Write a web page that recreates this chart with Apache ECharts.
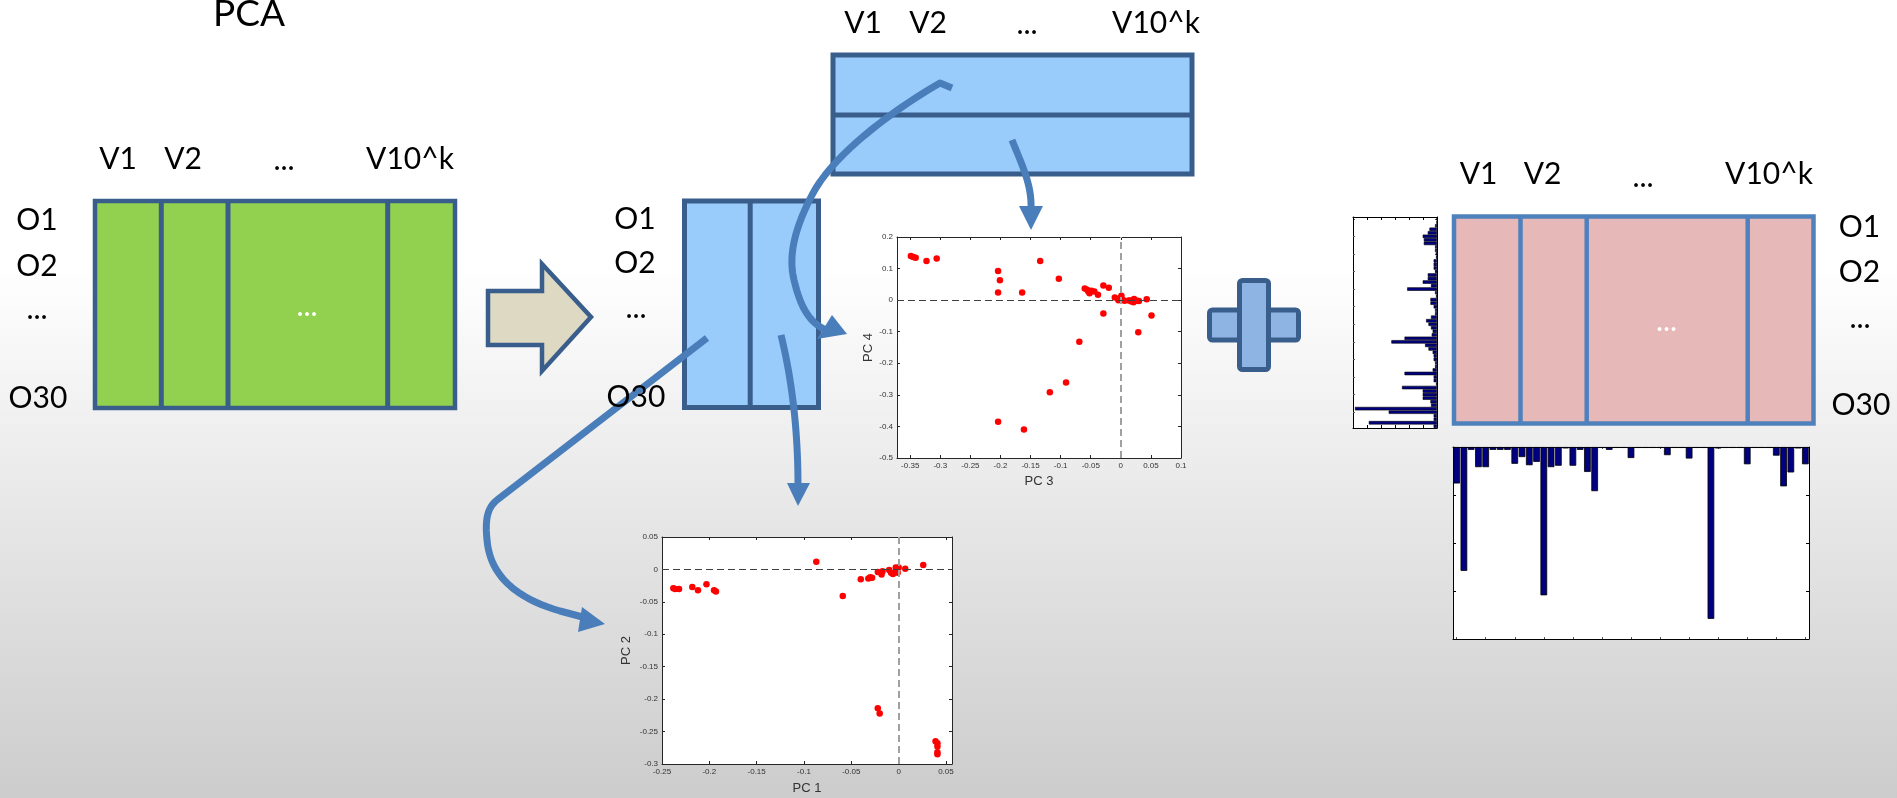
<!DOCTYPE html>
<html><head><meta charset="utf-8">
<script src="https://cdn.jsdelivr.net/npm/echarts@6/dist/echarts.min.js"></script>
<style>html,body{margin:0;padding:0;background:#fff}#c{width:1897px;height:798px}</style>
</head><body><div id="c"></div>
<script>
// ---------- data ----------
const pc3Scores = [-0.349,-0.345,-0.341,-0.323,-0.306,-0.204,-0.201,-0.204,-0.164,-0.134,-0.103,-0.060,-0.056,-0.054,-0.052,-0.049,-0.044,-0.038,-0.029,-0.020,-0.029,-0.010,-0.004,0.001,0.003,0.013,0.018,0.021,0.022,0.027,0.030,0.043,0.051,0.029,-0.069,-0.091,-0.118,-0.204,-0.161,0.000,0.006,0.016];
const pc4Scores = [0.140,0.137,0.134,0.124,0.132,0.092,0.063,0.024,0.024,0.124,0.068,0.037,0.033,0.027,0.022,0.030,0.027,0.017,0.046,0.039,-0.042,0.008,0.000,0.014,0.001,-0.001,-0.004,-0.007,0.004,-0.002,-0.003,0.003,-0.049,-0.102,-0.132,-0.261,-0.292,-0.385,-0.410,0.008,-0.002,-0.001];
const pc1Scores = [-0.238,-0.236,-0.232,-0.218,-0.212,-0.203,-0.195,-0.193,-0.087,-0.059,-0.040,-0.032,-0.030,-0.028,-0.022,-0.018,-0.017,-0.010,-0.008,-0.006,-0.003,-0.001,0.000,0.007,0.026,-0.022,-0.020,0.039,0.041,0.041,0.041,0.041,-0.003];
const pc2Scores = [-0.029,-0.030,-0.030,-0.027,-0.032,-0.023,-0.032,-0.034,0.012,-0.041,-0.015,-0.014,-0.012,-0.013,-0.004,-0.008,-0.003,-0.001,-0.005,-0.007,-0.003,-0.005,0.003,0.001,0.007,-0.214,-0.222,-0.265,-0.268,-0.273,-0.282,-0.285,0.003];
const variableLoadings = [-0.076,-0.258,-0.006,-0.042,-0.042,-0.006,-0.006,-0.006,-0.035,-0.021,-0.038,-0.031,-0.309,-0.042,-0.039,-0.003,-0.039,-0.006,-0.052,-0.092,-0.002,-0.006,-0.002,-0.002,-0.023,-0.002,-0.002,-0.002,-0.002,-0.017,-0.002,-0.002,-0.024,-0.002,-0.002,-0.358,-0.003,-0.002,-0.002,-0.002,-0.036,-0.002,-0.002,-0.002,-0.018,-0.082,-0.053,-0.003,-0.036];
const observationScores = [-0.003,-0.003,-0.014,-0.054,-0.066,-0.102,-0.094,-0.094,-0.014,-0.014,-0.009,-0.007,-0.024,-0.024,-0.024,-0.014,-0.066,-0.066,-0.102,-0.043,-0.213,-0.014,-0.007,-0.047,-0.047,-0.024,-0.014,-0.014,-0.043,-0.078,-0.061,-0.043,-0.031,-0.038,-0.232,-0.326,-0.085,-0.061,-0.031,-0.024,-0.024,-0.014,-0.014,-0.031,-0.232,-0.024,-0.024,-0.007,-0.250,-0.102,-0.102,-0.102,-0.047,-0.043,-0.586,-0.345,-0.024,-0.024,-0.487,-0.024];
const pc3Ticks = [-0.35,-0.3,-0.25,-0.2,-0.15,-0.1,-0.05,0,0.05,0.1];
const pc4Ticks = [-0.5,-0.4,-0.3,-0.2,-0.1,0,0.1,0.2];
const pc1Ticks = [-0.25,-0.2,-0.15,-0.1,-0.05,0,0.05];
const pc2Ticks = [-0.3,-0.25,-0.2,-0.15,-0.1,-0.05,0,0.05];
const columnLabels = ['V1','V2','...','V10^k'];
const rowLabels = ['O1','O2','...','O30'];
const variableNames = variableLoadings.map((_, i) => 'V' + (i + 1));
const observationNames = observationScores.map((_, i) => 'O' + (i + 1));

// ---------- helpers ----------
const AX = '#262626';
const fmt = v => String(Math.round(v * 1000) / 1000);
function valAxis(grid, pos, min, max, ticks, showLabel, name, nameGap) {
  const a = {
    type: 'value', gridIndex: grid, position: pos, min: min, max: max,
    axisLine: {show: true, onZero: false, lineStyle: {color: AX, width: 1}},
    axisTick: {show: true, inside: true, length: 3, lineStyle: {color: AX}},
    axisLabel: {show: showLabel, fontSize: 8, color: '#333', margin: 4, fontFamily: 'Liberation Sans', formatter: fmt},
    splitLine: {show: false}
  };
  if (ticks) { a.axisTick.customValues = ticks; a.axisLabel.customValues = ticks; }
  if (name) {
    a.name = name; a.nameLocation = 'middle'; a.nameGap = nameGap;
    a.nameTextStyle = {fontSize: 13, color: '#333', fontFamily: 'Liberation Sans'};
  }
  return a;
}
function barValAxis(grid, pos, min, max) {
  return {
    type: 'value', gridIndex: grid, position: pos, min: min, max: max, interval: 0.1,
    axisLine: {show: true, onZero: false, lineStyle: {color: '#000', width: 1}},
    axisTick: {show: true, inside: true, length: 3, lineStyle: {color: '#000'}},
    axisLabel: {show: false}, splitLine: {show: false}
  };
}
function catAxis(grid, pos, names, inverse) {
  return {
    type: 'category', gridIndex: grid, position: pos, data: names, inverse: !!inverse,
    axisLine: {show: true, onZero: false, lineStyle: {color: '#000', width: 1}},
    axisTick: {show: true, inside: true, length: 2, alignWithLabel: true, lineStyle: {color: '#555'}},
    axisLabel: {show: false}, splitLine: {show: false}
  };
}
function bez(p0, c1, c2, p1, n) {
  const pts = [];
  for (let i = 0; i <= n; i++) {
    const t = i / n, u = 1 - t;
    pts.push([
      u*u*u*p0[0] + 3*u*u*t*c1[0] + 3*u*t*t*c2[0] + t*t*t*p1[0],
      u*u*u*p0[1] + 3*u*u*t*c1[1] + 3*u*t*t*c2[1] + t*t*t*p1[1]
    ]);
  }
  return pts;
}
const ARROW = '#4a7ebb';
function curve(points) {
  return {type: 'polyline', z: 30, shape: {points: points}, style: {stroke: ARROW, lineWidth: 7, fill: null, lineJoin: 'round'}};
}
function head(pts) {
  return {type: 'polygon', z: 31, shape: {points: pts}, style: {fill: ARROW}};
}
function label(t, x, y, size, color) {
  return {type: 'text', z: 40, x: x, y: y, style: {text: t, font: (size || 30) + 'px Lato', fill: color || '#000', align: 'center', verticalAlign: 'middle'}};
}
function box(x, y, w, h, fill, stroke, lw) {
  return {type: 'rect', z: 10, shape: {x: x, y: y, width: w, height: h}, style: {fill: fill, stroke: stroke, lineWidth: lw}};
}
function vline(x, y1, y2, stroke, lw) {
  return {type: 'line', z: 11, shape: {x1: x, y1: y1, x2: x, y2: y2}, style: {stroke: stroke, lineWidth: lw}};
}
function hline(y, x1, x2, stroke, lw) {
  return {type: 'line', z: 11, shape: {x1: x1, y1: y, x2: x2, y2: y}, style: {stroke: stroke, lineWidth: lw}};
}

const DARK = '#3a5e8b';
const arrow1 = [[952,88],[940,83]]
  .concat(bez([940,83],[905,103],[835,150],[812,195],20).slice(1))
  .concat(bez([812,195],[795,228],[788,255],[794,280],20).slice(1))
  .concat(bez([794,280],[800,305],[808,322],[826,330],20).slice(1));
const arrow2 = bez([1012,140],[1022,165],[1032,185],[1031,209],20);
const arrow3 = [[707,338]]
  .concat(bez([497,500],[487,508],[485,520],[487,540],12))
  .concat(bez([487,540],[490,575],[515,598],[560,611],20).slice(1))
  .concat([[590,619]]);
const arrow4 = bez([781,335],[792,380],[798,430],[798,486],20);

const graphicEls = [
  label('PCA', 249, 14, 37),
  // green matrix
  box(95, 201, 360, 207, '#92d050', DARK, 4.5),
  vline(161.3, 201, 408, DARK, 5), vline(228, 201, 408, DARK, 5), vline(387.7, 201, 408, DARK, 5),
  label(columnLabels[0], 118, 159), label(columnLabels[1], 183, 159), label(columnLabels[2], 284, 160), label(columnLabels[3], 410, 159),
  label(rowLabels[0], 37, 220), label(rowLabels[1], 37, 266), label(rowLabels[2], 37, 309), label(rowLabels[3], 38, 398),
  label('...', 307, 306, 30, '#fff'),
  // beige arrow
  {type: 'polygon', z: 10, shape: {points: [[488,291],[542,291],[542,264],[591,317],[542,371],[542,345],[488,345]]}, style: {fill: '#ddd9c3', stroke: DARK, lineWidth: 4.5, lineJoin: 'miter'}},
  // left blue matrix
  box(684.5, 201, 134, 206.5, '#99cbfb', DARK, 5),
  vline(750.2, 201, 407.5, DARK, 5),
  label(rowLabels[0], 635, 219), label(rowLabels[1], 635, 263), label(rowLabels[2], 636, 308), label(rowLabels[3], 636, 397.5),
  // top blue matrix
  box(833, 55, 359, 119, '#99cbfb', DARK, 5),
  hline(115, 833, 1192, DARK, 5),
  label(columnLabels[0], 863, 23.5), label(columnLabels[1], 928, 23.5), label(columnLabels[2], 1027, 24), label(columnLabels[3], 1156, 23.5),
  // plus sign
  {type: 'rect', z: 10, shape: {x: 1209.5, y: 310, width: 89, height: 30, r: 3}, style: {fill: '#8eb4e3', stroke: DARK, lineWidth: 5}},
  {type: 'rect', z: 12, shape: {x: 1239.5, y: 280.5, width: 29, height: 89, r: 3}, style: {fill: '#8eb4e3', stroke: DARK, lineWidth: 5}},
  // pink matrix
  box(1454, 216.5, 359.5, 207, '#e6b9b8', '#4f81bd', 4.5),
  vline(1520.5, 216.5, 423.5, '#4f81bd', 4.5), vline(1586.7, 216.5, 423.5, '#4f81bd', 4.5), vline(1747.7, 216.5, 423.5, '#4f81bd', 4.5),
  label(columnLabels[0], 1478.6, 174.5), label(columnLabels[1], 1542.6, 174.5), label(columnLabels[2], 1643, 177), label(columnLabels[3], 1769, 174.5),
  label(rowLabels[0], 1859.5, 227), label(rowLabels[1], 1859.5, 272.5), label(rowLabels[2], 1860, 318), label(rowLabels[3], 1861, 405.5),
  label('...', 1666.5, 321, 30, '#fff'),
  // curved arrows
  curve(arrow1), head([[817,339],[832,315],[847,334]]),
  curve(arrow2), head([[1019,206],[1043,206],[1031,230]]),
  curve(arrow3), head([[582,607],[578,632],[605,624]]),
  curve(arrow4), head([[787,483],[810,483],[798,506]])
];

const chart = echarts.init(document.getElementById('c'), null, {renderer: 'canvas'});
const option = {
  animation: false,
  backgroundColor: new echarts.graphic.LinearGradient(0, 0, 0, 1, [
    {offset: 0, color: '#ffffff'}, {offset: 0.33, color: '#ffffff'}, {offset: 1, color: '#cccccc'}
  ]),
  grid: [
    {left: 897, top: 237, width: 284, height: 221, show: true, backgroundColor: '#fff', borderWidth: 0},
    {left: 662, top: 537, width: 290, height: 227, show: true, backgroundColor: '#fff', borderWidth: 0},
    {left: 1353, top: 217, width: 84, height: 211, show: true, backgroundColor: '#fff', borderWidth: 0},
    {left: 1453, top: 447, width: 356, height: 192, show: true, backgroundColor: '#fff', borderWidth: 0}
  ],
  xAxis: [
    valAxis(0, 'bottom', -0.372, 0.1, pc3Ticks, true, 'PC 3', 17),
    valAxis(0, 'top', -0.372, 0.1, pc3Ticks, false),
    valAxis(1, 'bottom', -0.25, 0.0564, pc1Ticks, true, 'PC 1', 18),
    valAxis(1, 'top', -0.25, 0.0564, pc1Ticks, false),
    barValAxis(2, 'bottom', -0.6, 0),
    barValAxis(2, 'top', -0.6, 0),
    catAxis(3, 'bottom', variableNames),
    catAxis(3, 'top', variableNames)
  ],
  yAxis: [
    valAxis(0, 'left', -0.5, 0.2, pc4Ticks, true, 'PC 4', 22),
    valAxis(0, 'right', -0.5, 0.2, pc4Ticks, false),
    valAxis(1, 'left', -0.3, 0.05, pc2Ticks, true, 'PC 2', 29),
    valAxis(1, 'right', -0.3, 0.05, pc2Ticks, false),
    catAxis(2, 'left', observationNames, true),
    catAxis(2, 'right', observationNames, true),
    barValAxis(3, 'left', -0.4, 0),
    barValAxis(3, 'right', -0.4, 0)
  ],
  series: [
    {type: 'scatter', xAxisIndex: 0, yAxisIndex: 0, data: [], z: 1, silent: true,
     markLine: {silent: true, symbol: 'none', label: {show: false}, animation: false,
       data: [{xAxis: 0, lineStyle: {color: '#a0a0a0', width: 2, type: [7, 4]}},
              {yAxis: 0, lineStyle: {color: '#404040', width: 1.2, type: [7, 4]}}]}},
    {type: 'scatter', xAxisIndex: 0, yAxisIndex: 0, z: 3, symbolSize: 6.5,
     itemStyle: {color: '#ff0000', opacity: 1},
     data: pc3Scores.map((v, i) => [v, pc4Scores[i]])},
    {type: 'scatter', xAxisIndex: 2, yAxisIndex: 2, data: [], z: 1, silent: true,
     markLine: {silent: true, symbol: 'none', label: {show: false}, animation: false,
       data: [{xAxis: 0, lineStyle: {color: '#a0a0a0', width: 2, type: [7, 4]}},
              {yAxis: 0, lineStyle: {color: '#404040', width: 1.2, type: [7, 4]}}]}},
    {type: 'scatter', xAxisIndex: 2, yAxisIndex: 2, z: 3, symbolSize: 6.5,
     itemStyle: {color: '#ff0000', opacity: 1},
     data: pc1Scores.map((v, i) => [v, pc2Scores[i]])},
    {type: 'bar', xAxisIndex: 4, yAxisIndex: 4, data: observationScores, barCategoryGap: '2%',
     itemStyle: {color: '#000080', borderColor: '#000', borderWidth: 0.6}},
    {type: 'bar', xAxisIndex: 6, yAxisIndex: 6, data: variableLoadings, barCategoryGap: '8%',
     itemStyle: {color: '#000080', borderColor: '#000', borderWidth: 0.8}}
  ],
  graphic: {elements: graphicEls}
};
chart.setOption(option);
</script>
</body></html>
